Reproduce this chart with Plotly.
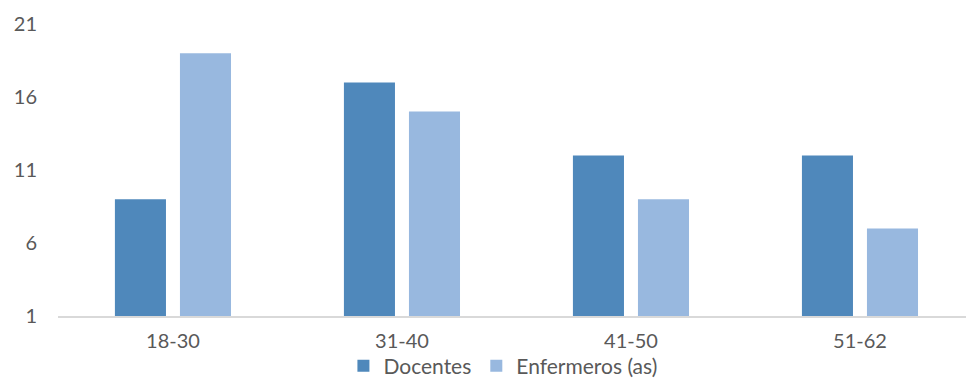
import plotly.graph_objects as go

categories = ["18-30", "31-40", "41-50", "51-62"]
docentes = [9, 17, 12, 12]
enfermeros = [19, 15, 9, 7]
y_ticks = [1, 6, 11, 16, 21]

font_family = "Lato, 'Open Sans', sans-serif"
text_color = "#595959"

fig = go.Figure()
fig.add_trace(go.Bar(name="Docentes", x=categories, y=docentes,
                     marker=dict(color="#4f88bb", line=dict(width=0))))
fig.add_trace(go.Bar(name="Enfermeros (as)", x=categories, y=enfermeros,
                     marker=dict(color="#98b8df", line=dict(width=0))))

fig.update_layout(
    width=966, height=379,
    margin=dict(l=58, r=0, t=24, b=63, autoexpand=False),
    paper_bgcolor="white", plot_bgcolor="white",
    barmode="group", bargap=0.432, bargroupgap=0.215,
    font=dict(family=font_family, size=20, color=text_color),
    showlegend=True,
    legend=dict(orientation="h", x=0.49, xanchor="center",
                y=-0.172, yanchor="middle", bgcolor="rgba(0,0,0,0)",
                font=dict(size=21, color=text_color), itemwidth=30,
                traceorder="normal", tracegroupgap=0),
)
fig.update_xaxes(range=[-0.502, 3.463], showgrid=False, showline=True,
                 linecolor="#d9d9d9", linewidth=2, ticks="",
                 ticklabelstandoff=6, tickfont=dict(size=20, color=text_color))
fig.update_yaxes(range=[1, 21], tickvals=y_ticks, showgrid=False, zeroline=False,
                 showline=False, ticks="", ticklabelstandoff=20,
                 tickfont=dict(size=20, color=text_color))

fig.write_html("out.html")
